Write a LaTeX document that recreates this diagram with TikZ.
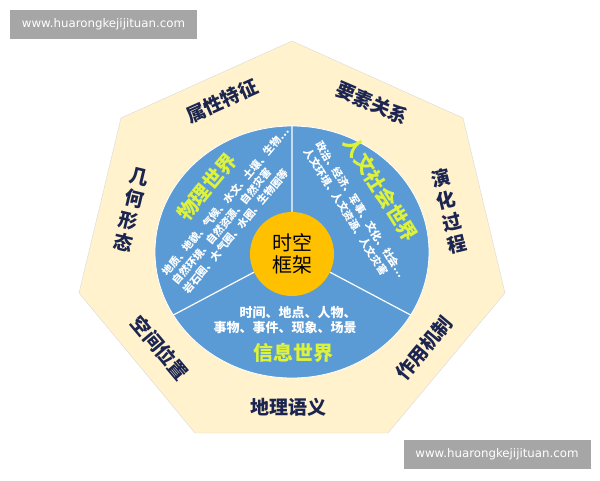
\documentclass[tikz,border=0pt]{standalone}
\usepackage{fontspec}
\setmainfont{Noto Sans CJK SC}
\newfontfamily\urlfont{DejaVu Sans}
\usetikzlibrary{shapes.geometric}
\definecolor{cream}{HTML}{FFF2CC}
\definecolor{skyblue}{HTML}{5B9BD5}
\definecolor{gold}{HTML}{FFC000}
\definecolor{navy}{HTML}{1C2550}
\definecolor{lime}{HTML}{DDF23A}
\definecolor{mark}{HTML}{A6A6A6}
\tikzset{lab/.style={text=navy,font=\bfseries\fontsize{19}{22.5}\selectfont,inner sep=0pt}}
\tikzset{wld/.style={text=lime,font=\bfseries\fontsize{20}{20}\selectfont,inner sep=0pt}}
\tikzset{sm/.style={text=white,font=\bfseries\fontsize{10.5}{13.5}\selectfont,inner sep=0pt}}
\tikzset{wm/.style={fill=mark,text=white,font=\urlfont\fontsize{11.8}{12}\selectfont,minimum width=187pt,minimum height=29pt,inner sep=0pt}}

\begin{document}
\begin{tikzpicture}[x=1pt,y=-1pt]
            \useasboundingbox (0,0) rectangle (600,480);
            % heptagon and worlds
            \filldraw[draw=black!15,fill=cream](292,41)--(463,118)--(505,293)--(388,433)--(195,433)--(79,293)--(121,118)--cycle;
            \filldraw[draw=white,fill=skyblue,line width=0.8pt](292,252) ellipse [x radius=137,y radius=126];
            \coordinate (o) at (292,252);
            \coordinate (up) at (292,126);
            \coordinate (lf) at (173.4,315);
            \coordinate (rt) at (410.6,315);
            \draw[white,line width=1.2pt] (o)--(up) (o)--(lf) (o)--(rt);
            \node[circle,fill=gold,minimum size=84pt,align=center,font=\fontsize{20}{22}\selectfont] (core) at (292,254) {时空\\框架};
            % side labels
            \node[lab,rotate=24] (attr) at (222,101) {属性特征};
            \node[lab,rotate=-23] (rel) at (372,103) {要素关系};
            \node[lab,rotate=-13.5,align=center] (geo) at (131.5,210) {几\\何\\形\\态};
            \node[lab,rotate=13.5,align=center] (evo) at (449,211) {演\\化\\过\\程};
            \node[lab,rotate=-50] (pos) at (160,348) {空间位置};
            \node[lab,rotate=50] (mech) at (424,348) {作用机制};
            \node[lab] (sem) at (288,407) {地理语义};
            % the three worlds
            \node[wld,rotate=50] (phy) at (207,187) {物理世界};
            \node[sm,rotate=50,align=left] (phyt) at (236,210) {地质、地貌、气候、水文、土壤、生物…\\自然环境、自然资源、自然灾害\\岩石圈、大气圈、水圈、生物圈等};
            \node[wld,rotate=-58] (hum) at (381,189) {人文社会世界};
            \node[sm,rotate=-58,align=left] (humt) at (355,213) {政治、经济、军事、文化、社会…\\人文环境、人文资源、人文灾害};
            \node[wld] (inf) at (293,353) {信息世界};
            \node[sm,align=right,font=\bfseries\fontsize{13}{15}\selectfont] (inft) at (285,320) {时间、地点、人物、\\事物、事件、现象、场景};
            % marks
            \node[wm] (wa) at (103.5,24.5) {www.huarongkejijituan.com};
            \node[wm] (wb) at (497,454.5) {www.huarongkejijituan.com};
          \end{tikzpicture}
\end{document}
